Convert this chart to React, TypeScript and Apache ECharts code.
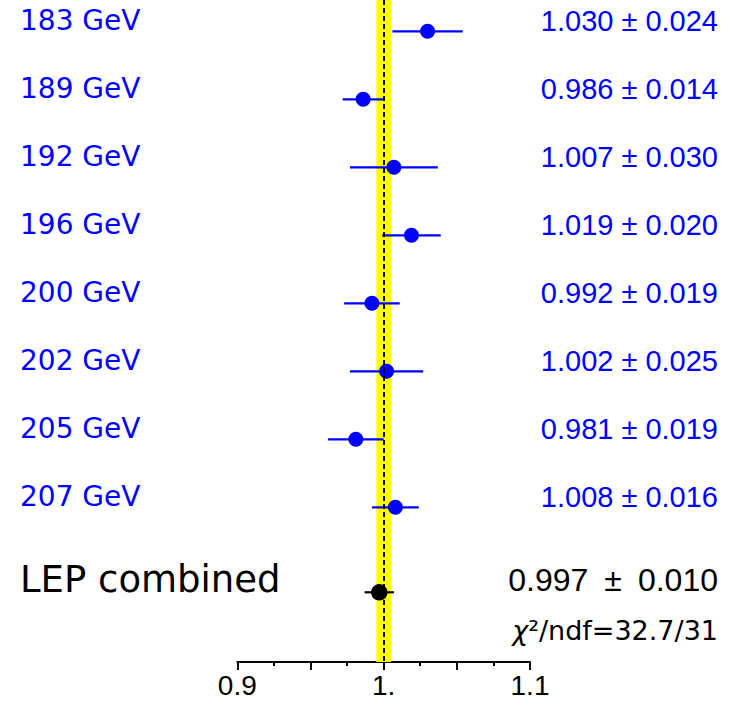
import React, { useEffect, useRef } from "react";
import * as echarts from "echarts";

// ---- data ----
const energies = ["183 GeV", "189 GeV", "192 GeV", "196 GeV", "200 GeV", "202 GeV", "205 GeV", "207 GeV"];
const ratios = [1.03, 0.986, 1.007, 1.019, 0.992, 1.002, 0.981, 1.008];
const errors = [0.024, 0.014, 0.03, 0.02, 0.019, 0.025, 0.019, 0.016];
const rowIndex = [0, 1, 2, 3, 4, 5, 6, 7];

const combinedLabel = ["LEP combined"];
const combinedValue = [0.997];
const combinedError = [0.01];
const combinedRow = [8.25];
const chi2Text = ["32.7/31"];

const bandRange = [0.995, 1.005];
const referenceValue = [1.0];

const tickValues = [0.9, 1.0, 1.1];
const tickTexts = ["0.9", "1.", "1.1"];

const BLUE = "#0000ff";
const LEFT_FONT = "DejaVu Sans";
const NUM_FONT = "Liberation Sans";

const fmt = (v: number) => v.toFixed(3);

export default function App() {
  const ref = useRef<HTMLDivElement>(null);

  useEffect(() => {
    if (!ref.current) return;
    const chart = echarts.init(ref.current, null, { renderer: "svg" });

    const rowData = ratios.map((v, i) => [v, errors[i], rowIndex[i]]);
    const combData = combinedValue.map((v, i) => [v, combinedError[i], combinedRow[i]]);

    const option: any = {
      animation: false,
      backgroundColor: "#ffffff",
      grid: { left: 237.3, right: 201, top: 0, bottom: 39, containLabel: false },
      xAxis: {
        type: "value",
        position: "bottom",
        min: 0.9,
        max: 1.1,
        interval: 0.05,
        axisLine: { show: true, onZero: false, lineStyle: { color: "#000", width: 2 } },
        axisTick: { show: true, inside: false, length: 8, lineStyle: { color: "#000", width: 2 } },
        minorTick: { show: true, splitNumber: 2, length: 4, lineStyle: { color: "#000", width: 2 } },
        splitLine: { show: false },
        minorSplitLine: { show: false },
        axisLabel: {
          show: true,
          showMinLabel: true,
          showMaxLabel: true,
          margin: 9,
          color: "#000",
          fontSize: 28,
          fontFamily: NUM_FONT,
          formatter: (v: number) => {
            for (let i = 0; i < tickValues.length; i++) {
              if (Math.abs(v - tickValues[i]) < 1e-6) return tickTexts[i];
            }
            return "";
          },
        },
      },
      yAxis: {
        type: "value",
        inverse: true,
        min: -0.46,
        max: 9.275,
        show: false,
      },
      series: [
        {
          type: "line",
          data: [],
          z: 1,
          silent: true,
          markArea: {
            silent: true,
            itemStyle: { color: "#ffff00", opacity: 1 },
            label: { show: false },
            data: [[{ xAxis: bandRange[0] }, { xAxis: bandRange[1] }]],
          },
          markLine: {
            silent: true,
            symbol: "none",
            label: { show: false },
            lineStyle: { color: "#000", width: 2, type: [5, 3] },
            data: referenceValue.map((v) => ({ xAxis: v })),
          },
        },
        {
          type: "custom",
          z: 3,
          silent: true,
          data: rowData,
          renderItem: (params: any, api: any) => {
            const idx = params.dataIndex;
            const v = api.value(0);
            const e = api.value(1);
            const r = api.value(2);
            const p1 = api.coord([v - e, r]);
            const p2 = api.coord([v + e, r]);
            const y = p1[1];
            return {
              type: "group",
              children: [
                {
                  type: "line",
                  shape: { x1: p1[0], y1: y, x2: p2[0], y2: y },
                  style: { stroke: BLUE, lineWidth: 2.2 },
                },
                {
                  type: "text",
                  x: 20,
                  y: y - 10.5,
                  style: {
                    text: energies[idx],
                    fill: BLUE,
                    fontSize: 28,
                    fontFamily: LEFT_FONT,
                    align: "left",
                    verticalAlign: "middle",
                    textAlign: "left",
                    textVerticalAlign: "middle",
                  },
                },
                {
                  type: "text",
                  x: 718,
                  y: y - 10,
                  style: {
                    text: `${fmt(v)} \u00b1 ${fmt(e)}`,
                    fill: BLUE,
                    fontSize: 29,
                    fontFamily: NUM_FONT,
                    align: "right",
                    verticalAlign: "middle",
                    textAlign: "right",
                    textVerticalAlign: "middle",
                  },
                },
              ],
            };
          },
        },
        {
          type: "custom",
          z: 3,
          silent: true,
          data: combData,
          renderItem: (params: any, api: any) => {
            const idx = params.dataIndex;
            const v = api.value(0);
            const e = api.value(1);
            const r = api.value(2);
            const p1 = api.coord([v - e, r]);
            const p2 = api.coord([v + e, r]);
            const y = p1[1];
            return {
              type: "group",
              children: [
                {
                  type: "line",
                  shape: { x1: p1[0], y1: y, x2: p2[0], y2: y },
                  style: { stroke: "#000", lineWidth: 2.2 },
                },
                {
                  type: "text",
                  x: 20,
                  y: y - 12.7,
                  style: {
                    text: combinedLabel[idx],
                    fill: "#000",
                    fontSize: 37,
                    fontFamily: LEFT_FONT,
                    align: "left",
                    verticalAlign: "middle",
                    textAlign: "left",
                    textVerticalAlign: "middle",
                  },
                },
                {
                  type: "text",
                  x: 718,
                  y: y - 12,
                  style: {
                    text: `${fmt(v)}\u2002\u00b1\u2002${fmt(e)}`,
                    fill: "#000",
                    fontSize: 32,
                    fontFamily: NUM_FONT,
                    align: "right",
                    verticalAlign: "middle",
                    textAlign: "right",
                    textVerticalAlign: "middle",
                  },
                },
                {
                  type: "text",
                  x: 718,
                  y: y + 38,
                  style: {
                    text: `{c|\u03c7}\u00b2/ndf=${chi2Text[idx]}`,
                    fill: "#000",
                    fontSize: 27,
                    fontFamily: LEFT_FONT,
                    align: "right",
                    verticalAlign: "middle",
                    textAlign: "right",
                    textVerticalAlign: "middle",
                    rich: {
                      c: { fontStyle: "italic", fontSize: 27, fontFamily: LEFT_FONT, fill: "#000" },
                    },
                  },
                },
              ],
            };
          },
        },
        {
          type: "scatter",
          z: 4,
          silent: true,
          symbol: "circle",
          symbolSize: 15,
          itemStyle: { color: BLUE, opacity: 1 },
          data: ratios.map((v, i) => [v, rowIndex[i]]),
        },
        {
          type: "scatter",
          z: 4,
          silent: true,
          symbol: "circle",
          symbolSize: 16.5,
          itemStyle: { color: "#000", opacity: 1 },
          data: combinedValue.map((v, i) => [v, combinedRow[i]]),
        },
      ],
    };

    chart.setOption(option);
    return () => chart.dispose();
  }, []);

  return (
    <div
      ref={ref}
      style={{ position: "fixed", left: 0, top: 0, width: 731, height: 701, background: "#fff" }}
    />
  );
}
